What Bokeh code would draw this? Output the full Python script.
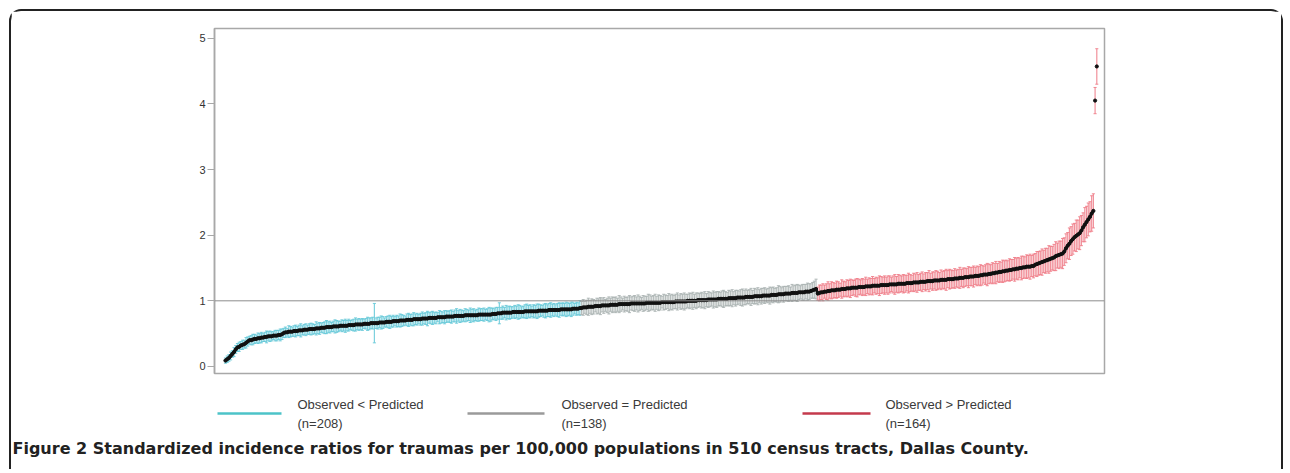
from bokeh.plotting import figure
from bokeh.models import Range1d, Span, FixedTicker
from bokeh.core.properties import value
from bokeh.embed import file_html
from bokeh.resources import INLINE

# ---- data (sorted SIR per census tract) ----
sir_lower = [
    0.09, 0.11, 0.13, 0.16, 0.19, 0.22, 0.26, 0.29, 0.30, 0.32,
    0.33, 0.34, 0.36, 0.38, 0.40, 0.40, 0.41, 0.42, 0.42, 0.43,
    0.43, 0.44, 0.44, 0.45, 0.45, 0.46, 0.46, 0.46, 0.47, 0.47,
    0.47, 0.48, 0.48, 0.49, 0.51, 0.52, 0.52, 0.53, 0.53, 0.53,
    0.54, 0.54, 0.54, 0.55, 0.55, 0.55, 0.56, 0.56, 0.56, 0.57,
    0.57, 0.57, 0.57, 0.58, 0.58, 0.58, 0.59, 0.59, 0.59, 0.60,
    0.60, 0.60, 0.60, 0.61, 0.61, 0.61, 0.61, 0.62, 0.62, 0.62,
    0.62, 0.62, 0.63, 0.63, 0.63, 0.63, 0.64, 0.64, 0.64, 0.64,
    0.64, 0.65, 0.65, 0.65, 0.65, 0.66, 0.66, 0.66, 0.66, 0.66,
    0.67, 0.67, 0.67, 0.67, 0.68, 0.68, 0.68, 0.68, 0.69, 0.69,
    0.69, 0.69, 0.70, 0.70, 0.70, 0.70, 0.71, 0.71, 0.71, 0.71,
    0.72, 0.72, 0.72, 0.72, 0.72, 0.73, 0.73, 0.73, 0.73, 0.74,
    0.74, 0.74, 0.74, 0.74, 0.75, 0.75, 0.75, 0.75, 0.75, 0.76,
    0.76, 0.76, 0.76, 0.76, 0.77, 0.77, 0.77, 0.77, 0.77, 0.77,
    0.78, 0.78, 0.78, 0.78, 0.78, 0.78, 0.78, 0.78, 0.79, 0.79,
    0.79, 0.79, 0.79, 0.79, 0.79, 0.79, 0.80, 0.80, 0.80, 0.81,
    0.81, 0.81, 0.82, 0.82, 0.82, 0.82, 0.82, 0.82, 0.83, 0.83,
    0.83, 0.83, 0.83, 0.83, 0.83, 0.84, 0.84, 0.84, 0.84, 0.84,
    0.84, 0.84, 0.84, 0.85, 0.85, 0.85, 0.85, 0.85, 0.85, 0.86,
    0.86, 0.86, 0.86, 0.86, 0.86, 0.86, 0.87, 0.87, 0.87, 0.87,
    0.87, 0.87, 0.87, 0.88, 0.88, 0.88, 0.88, 0.89,
]
ci_lower = [
    .04, .05, .05, .06, .05, .07, .06, .06, .07, .06,
    .07, .06, .08, .07, .06, .07, .08, .07, .06, .08,
    .07, .08, .06, .07, .09, .07, .08, .07, .06, .08,
    .08, .07, .09, .08, .07, .08, .06, .09, .08, .07,
    .08, .09, .07, .08, .10, .07, .08, .09, .07, .08,
    .09, .08, .07, .10, .08, .09, .07, .08, .09, .10,
    .08, .09, .07, .08, .10, .09, .08, .07, .09, .08,
    .10, .08, .09, .07, .08, .09, .10, .08, .09, .08,
    .09, .07, .08, .10, .09, .08, .09, .30, .08, .09,
    .08, .10, .09, .07, .08, .09, .10, .08, .09, .07,
    .09, .08, .10, .09, .08, .07, .09, .10, .08, .09,
    .10, .08, .09, .07, .09, .10, .08, .09, .11, .08,
    .09, .10, .08, .09, .07, .10, .09, .08, .10, .09,
    .08, .09, .10, .08, .09, .11, .08, .10, .09, .08,
    .10, .09, .08, .11, .09, .10, .08, .09, .10, .09,
    .09, .10, .08, .09, .11, .10, .09, .08, .10, .09,
    .16, .09, .10, .08, .11, .09, .10, .09, .08, .10,
    .09, .11, .10, .08, .09, .10, .11, .09, .10, .08,
    .10, .09, .11, .10, .09, .08, .10, .11, .09, .10,
    .11, .09, .10, .08, .10, .11, .09, .10, .09, .11,
    .10, .09, .11, .10, .08, .10, .09, .11,
]
sir_equal = [
    0.89, 0.90, 0.90, 0.90, 0.91, 0.91, 0.91, 0.91, 0.92, 0.92,
    0.92, 0.92, 0.93, 0.93, 0.93, 0.93, 0.93, 0.94, 0.94, 0.94,
    0.94, 0.94, 0.95, 0.95, 0.95, 0.95, 0.95, 0.95, 0.95, 0.96,
    0.96, 0.96, 0.96, 0.96, 0.96, 0.96, 0.96, 0.96, 0.97, 0.97,
    0.97, 0.97, 0.97, 0.97, 0.97, 0.97, 0.97, 0.98, 0.98, 0.98,
    0.98, 0.98, 0.98, 0.98, 0.98, 0.99, 0.99, 0.99, 0.99, 0.99,
    0.99, 0.99, 1.00, 1.00, 1.00, 1.00, 1.00, 1.00, 1.01, 1.01,
    1.01, 1.01, 1.01, 1.01, 1.02, 1.02, 1.02, 1.02, 1.02, 1.02,
    1.03, 1.03, 1.03, 1.03, 1.03, 1.03, 1.04, 1.04, 1.04, 1.04,
    1.04, 1.05, 1.05, 1.05, 1.05, 1.05, 1.06, 1.06, 1.06, 1.06,
    1.06, 1.07, 1.07, 1.07, 1.07, 1.07, 1.08, 1.08, 1.08, 1.08,
    1.08, 1.09, 1.09, 1.09, 1.09, 1.10, 1.10, 1.10, 1.10, 1.11,
    1.11, 1.11, 1.11, 1.12, 1.12, 1.12, 1.12, 1.13, 1.13, 1.13,
    1.13, 1.14, 1.14, 1.14, 1.15, 1.16, 1.17, 1.18,
]
ci_equal = [
    .10, .12, .09, .11, .13, .10, .12, .11, .09, .12,
    .11, .13, .10, .12, .09, .11, .13, .10, .12, .11,
    .12, .10, .13, .11, .09, .12, .10, .11, .13, .10,
    .11, .12, .10, .13, .11, .09, .12, .11, .10, .13,
    .12, .10, .11, .13, .10, .12, .11, .09, .12, .11,
    .10, .13, .11, .12, .10, .11, .13, .10, .12, .11,
    .13, .11, .10, .12, .11, .13, .10, .12, .11, .10,
    .12, .11, .13, .10, .12, .11, .10, .13, .11, .12,
    .11, .10, .12, .13, .11, .10, .12, .11, .13, .10,
    .12, .11, .10, .12, .13, .11, .12, .10, .11, .13,
    .10, .12, .11, .13, .10, .12, .11, .12, .10, .11,
    .13, .11, .12, .10, .11, .13, .12, .10, .12, .11,
    .11, .12, .10, .13, .11, .12, .13, .11, .10, .12,
    .12, .11, .13, .12, .11, .12, .13, .15,
]
sir_higher = [
    1.11, 1.12, 1.13, 1.13, 1.14, 1.14, 1.15, 1.15, 1.16, 1.16,
    1.16, 1.17, 1.17, 1.17, 1.18, 1.18, 1.18, 1.19, 1.19, 1.19,
    1.20, 1.20, 1.20, 1.20, 1.21, 1.21, 1.21, 1.21, 1.22, 1.22,
    1.22, 1.22, 1.23, 1.23, 1.23, 1.23, 1.23, 1.24, 1.24, 1.24,
    1.24, 1.24, 1.25, 1.25, 1.25, 1.25, 1.25, 1.26, 1.26, 1.26,
    1.26, 1.26, 1.27, 1.27, 1.27, 1.27, 1.28, 1.28, 1.28, 1.28,
    1.29, 1.29, 1.29, 1.29, 1.30, 1.30, 1.30, 1.30, 1.31, 1.31,
    1.31, 1.31, 1.32, 1.32, 1.32, 1.32, 1.33, 1.33, 1.33, 1.33,
    1.34, 1.34, 1.34, 1.35, 1.35, 1.35, 1.36, 1.36, 1.36, 1.37,
    1.37, 1.37, 1.38, 1.38, 1.38, 1.39, 1.39, 1.40, 1.40, 1.40,
    1.41, 1.41, 1.42, 1.42, 1.43, 1.43, 1.44, 1.44, 1.45, 1.45,
    1.46, 1.46, 1.47, 1.47, 1.48, 1.48, 1.49, 1.49, 1.50, 1.50,
    1.51, 1.51, 1.52, 1.52, 1.52, 1.53, 1.53, 1.55, 1.56, 1.57,
    1.58, 1.59, 1.60, 1.61, 1.62, 1.63, 1.64, 1.65, 1.66, 1.68,
    1.69, 1.70, 1.71, 1.72, 1.75, 1.80, 1.84, 1.87, 1.91, 1.94,
    1.97, 1.99, 2.01, 2.03, 2.07, 2.12, 2.16, 2.20, 2.24, 2.28,
    2.33, 2.37, 4.05, 4.57,
]
ci_higher = [
    .10, .12, .11, .13, .10, .12, .14, .11, .13, .12,
    .11, .13, .12, .10, .14, .12, .11, .13, .12, .14,
    .12, .11, .13, .14, .12, .11, .13, .12, .14, .11,
    .13, .12, .14, .11, .13, .12, .15, .13, .12, .14,
    .12, .14, .13, .11, .13, .15, .12, .14, .13, .12,
    .14, .13, .12, .15, .13, .12, .14, .13, .15, .12,
    .13, .15, .12, .14, .13, .16, .12, .14, .13, .15,
    .14, .12, .15, .13, .14, .16, .13, .15, .14, .13,
    .15, .13, .14, .16, .13, .15, .14, .13, .16, .14,
    .14, .16, .13, .15, .14, .16, .15, .13, .15, .17,
    .15, .14, .16, .15, .17, .14, .16, .15, .17, .16,
    .16, .15, .17, .16, .15, .18, .16, .17, .15, .18,
    .17, .16, .18, .17, .19, .16, .18, .17, .19, .18,
    .18, .20, .17, .19, .18, .21, .19, .18, .20, .22,
    .19, .21, .20, .23, .21, .22, .20, .24, .22, .23,
    .21, .24, .22, .25, .23, .22, .26, .24, .25, .23,
    .27, .26, .20, .27,
]
legend_labels = ["Observed < Predicted", "Observed = Predicted", "Observed > Predicted"]
legend_counts = ["(n=208)", "(n=138)", "(n=164)"]
caption = ("Figure 2 Standardized incidence ratios for traumas per 100,000 "
           "populations in 510 census tracts, Dallas County.")
y_ticks = [0, 1, 2, 3, 4, 5]

band_colors = ["#66c9d8", "#aab3b1", "#ef7d88"]
legend_colors = ["#4cc3c8", "#9a9a9a", "#c43a4c"]

groups = [(sir_lower, ci_lower), (sir_equal, ci_equal), (sir_higher, ci_higher)]

BORDER = "2px solid #222222"

# ---------------- main chart ----------------
p = figure(width=1274, height=369, output_backend="svg", toolbar_location=None,
           x_range=Range1d(-5.4, 514.5), y_range=Range1d(-0.107, 5.148),
           x_axis_location=None,
           min_border_left=203, min_border_right=181,
           min_border_top=17, min_border_bottom=7)
p.xgrid.visible = False
p.ygrid.visible = False
p.outline_line_color = "#a8a8a8"
p.outline_line_width = 1.5
p.background_fill_color = "white"
p.border_fill_color = "white"
p.styles = {"margin-left": "9px", "margin-top": "9px",
            "border-top": BORDER, "border-left": BORDER, "border-right": BORDER,
            "border-radius": "12px 12px 0 0"}

yax = p.yaxis[0]
yax.ticker = FixedTicker(ticks=y_ticks)
yax.minor_tick_line_color = None
yax.major_tick_in = 0
yax.major_tick_out = 7
yax.major_tick_line_color = "#a8a8a8"
yax.axis_line_color = "#a8a8a8"
yax.axis_line_width = 1.5
yax.major_label_standoff = 2
yax.major_label_text_font = "Liberation Sans"
yax.major_label_text_font_size = "11px"
yax.major_label_text_color = "#333333"

p.add_layout(Span(location=1, dimension="width", line_color="#8c8c8c", line_width=1))

all_x, all_y = [], []
start = 1
for (vals, half), col in zip(groups, band_colors):
    xs = list(range(start, start + len(vals)))
    lo = [v - h for v, h in zip(vals, half)]
    hi = [v + h for v, h in zip(vals, half)]
    p.segment(x0=xs, y0=lo, x1=xs, y1=hi, line_color=col, line_width=1.2, line_alpha=0.85)
    p.segment(x0=[x - 0.9 for x in xs], y0=hi, x1=[x + 0.9 for x in xs], y1=hi,
              line_color=col, line_width=1, line_alpha=0.9)
    p.segment(x0=[x - 0.9 for x in xs], y0=lo, x1=[x + 0.9 for x in xs], y1=lo,
              line_color=col, line_width=1, line_alpha=0.9)
    all_x += xs
    all_y += vals
    start += len(vals)

p.line(all_x[:-2], all_y[:-2], line_color="#111111", line_width=2.8)
p.scatter(all_x, all_y, marker="circle", size=3.2, fill_color="#111111", line_color="#111111")

# ---------------- legend + caption strip (page-pixel coordinates) ----------------
q = figure(width=1274, height=91, output_backend="svg", toolbar_location=None,
           x_range=Range1d(11, 1285), y_range=Range1d(469, 378),
           x_axis_location=None, y_axis_location=None,
           min_border_left=0, min_border_right=0, min_border_top=0, min_border_bottom=0)
q.xgrid.visible = False
q.ygrid.visible = False
q.outline_line_color = None
q.background_fill_color = "white"
q.border_fill_color = "white"
q.styles = {"margin-left": "9px", "border-left": BORDER, "border-right": BORDER}

leg_line_x0 = [217, 467, 802]
leg_line_x1 = [281, 544, 870]
leg_text_x = [297, 561, 885]
q.segment(x0=leg_line_x0, y0=[413] * 3, x1=leg_line_x1, y1=[413] * 3,
          line_color=legend_colors, line_width=2.5)
q.text(x=leg_text_x, y=[404] * 3, text=legend_labels,
       text_font=value("Liberation Sans"), text_font_size="13px",
       text_color="#3a3a3a", text_baseline="middle")
q.text(x=leg_text_x, y=[423] * 3, text=legend_counts,
       text_font=value("Liberation Sans"), text_font_size="13px",
       text_color="#3a3a3a", text_baseline="middle")
q.text(x=[12], y=[448], text=[caption],
       text_font=value("DejaVu Sans"), text_font_style="bold", text_font_size="16px",
       text_color="#222222", text_baseline="middle")

open("out.html", "w").write(file_html([p, q], INLINE))
